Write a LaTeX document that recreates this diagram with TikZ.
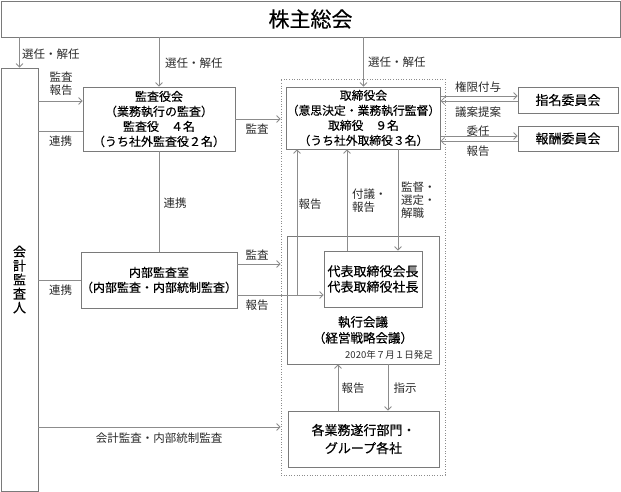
\documentclass[tikz,border=0pt]{standalone}
\usepackage{fontspec}
\setmainfont{Noto Sans CJK JP}
\newfontfamily\boxfont{Noto Sans CJK JP}[FakeBold=0.3]
\usetikzlibrary{arrows.meta}
\definecolor{lc}{HTML}{8C8C8C}
\definecolor{bc}{HTML}{7A7A7A}
\definecolor{tc}{HTML}{2A2A2A}
\begin{document}
\begin{tikzpicture}[x=1pt,y=-1pt,
  box/.style={draw=bc, line width=0.8pt, inner sep=0pt, align=center, text=black, font=\boxfont\fontsize{12}{15}\selectfont},
  lbl/.style={inner sep=0pt, text=tc, font=\fontsize{11.5}{13}\selectfont, align=left},
  ln/.style={draw=lc, line width=0.8pt},
  arr/.style={ln, -{Straight Barb[length=3.5pt,width=7pt]}},
  dotbox/.style={draw=lc, line width=0.8pt, dash pattern=on 1pt off 1.6pt, inner sep=0pt}
]
\useasboundingbox (0,0) rectangle (621,492);

% nodes
\node[box, minimum width=619pt, minimum height=36pt, font=\boxfont\fontsize{21}{24}\selectfont] (soukai) at (310.5,19) {株主総会};
\node[box, minimum width=37pt, minimum height=423pt, font=\boxfont\fontsize{13}{14}\selectfont] (kaikei) at (19.5,279.5) {会\\計\\監\\査\\人};
\node[box, minimum width=152pt, minimum height=64pt] (kansayaku) at (159,119) {監査役会\\（業務執行の監査）\\監査役　４名\\（うち社外監査役２名）};
\node[box, minimum width=152pt, minimum height=56pt] (naibu) at (159,280) {内部監査室\\（内部監査・内部統制監査）};
\node[dotbox, minimum width=164pt, minimum height=396pt] (exec) at (363,277) {};
\node[box, minimum width=151pt, minimum height=62pt, font=\boxfont\fontsize{11.8}{15}\selectfont] (tori) at (363.5,118) {取締役会\\（意思決定・業務執行監督）\\取締役　９名\\（うち社外取締役３名）};
\node[box, minimum width=100pt, minimum height=26pt, font=\boxfont\fontsize{13}{15}\selectfont] (shimei) at (568,100) {指名委員会};
\node[box, minimum width=100pt, minimum height=25pt, font=\boxfont\fontsize{13}{15}\selectfont] (houshu) at (568,138.5) {報酬委員会};
\node[box, minimum width=152pt, minimum height=128pt] (shikkou) at (363,300) {};
\node[inner sep=0pt, align=center, font=\boxfont\fontsize{12.5}{16}\selectfont] (shikkoulbl) at (363,330) {執行会議\\（経営戦略会議）};
\node[box, minimum width=98pt, minimum height=56pt, font=\boxfont\fontsize{13}{15.5}\selectfont] (daihyo) at (373,279) {代表取締役会長\\代表取締役社長};
\node[lbl, font=\fontsize{9.5}{11}\selectfont, anchor=east] (date) at (433,355) {2020年７月１日発足};
\node[box, minimum width=151pt, minimum height=56pt, font=\boxfont\fontsize{13}{18}\selectfont] (kaku) at (363.5,439) {各業務遂行部門・\\グループ各社};

% reference levels
\coordinate (h101) at (0,101);
\coordinate (h131) at (0,131);
\coordinate (h264) at (0,264);
\coordinate (h295) at (0,295);
\coordinate (h96) at (0,96);
\coordinate (h101b) at (0,101);
\coordinate (h136) at (0,136);
\coordinate (h141) at (0,141);
\coordinate (h427) at (0,427);
\coordinate (v297) at (297,0);
\coordinate (v347) at (347,0);
\coordinate (v398) at (398,0);
\coordinate (v338) at (338,0);
\coordinate (v388) at (388,0);

% connectors
\draw[arr] (soukai.south -| kaikei.north) -- (kaikei.north);
\draw[arr] (soukai.south -| kansayaku.north) -- (kansayaku.north);
\draw[arr] (soukai.south -| tori.north) -- (tori.north);
\draw[arr] (kaikei.east |- h101) -- (kansayaku.west |- h101);
\draw[ln] (kaikei.east |- h131) -- (kansayaku.west |- h131);
\draw[arr] (kansayaku.east) -- (exec.west |- kansayaku.east);
\draw[ln] (kansayaku.south) -- (naibu.north);
\draw[ln] (kaikei.east |- naibu.west) -- (naibu.west);
\draw[arr] (naibu.east |- h264) -- (exec.west |- h264);
\draw[arr] (naibu.east |- h295) -- (daihyo.west |- h295);
\draw[arr] (v297 |- h295) -- (v297 |- tori.south);
\draw[arr] (v347 |- daihyo.north) -- (v347 |- tori.south);
\draw[arr] (v398 |- tori.south) -- (v398 |- daihyo.north);
\draw[arr] (tori.east |- h96) -- (shimei.west |- h96);
\draw[arr] (shimei.west |- h101b) -- (tori.east |- h101b);
\draw[arr] (tori.east |- h136) -- (houshu.west |- h136);
\draw[arr] (houshu.west |- h141) -- (tori.east |- h141);
\draw[arr] (v338 |- kaku.north) -- (v338 |- shikkou.south);
\draw[arr] (v388 |- shikkou.south) -- (v388 |- kaku.north);
\draw[arr] (kaikei.east |- h427) -- (exec.west |- h427);

% labels
\node[lbl, anchor=west] (l1) at (22,54) {選任・解任};
\node[lbl, anchor=west] (l2) at (165,63) {選任・解任};
\node[lbl, anchor=west] (l3) at (368,62) {選任・解任};
\node[lbl, align=center] (l4) at (61,84) {監査\\報告};
\node[lbl] (l5) at (60.5,141) {連携};
\node[lbl] (l6) at (257,129) {監査};
\node[lbl] (l7) at (175,203) {連携};
\node[lbl] (l8) at (60.5,290) {連携};
\node[lbl] (l9) at (257,255) {監査};
\node[lbl] (l10) at (257,305) {報告};
\node[lbl] (l11) at (310,204) {報告};
\node[lbl, anchor=west] (l12) at (352,201) {付議・\\報告};
\node[lbl, anchor=west] (l13) at (401,200) {監督・\\選定・\\解職};
\node[lbl] (l14) at (478,87) {権限付与};
\node[lbl] (l15) at (478,112) {議案提案};
\node[lbl] (l16) at (478,131) {委任};
\node[lbl] (l17) at (478,151) {報告};
\node[lbl] (l18) at (353,388) {報告};
\node[lbl] (l19) at (405,388) {指示};
\node[lbl] (l20) at (159,438) {会計監査・内部統制監査};
\end{tikzpicture}
\end{document}
